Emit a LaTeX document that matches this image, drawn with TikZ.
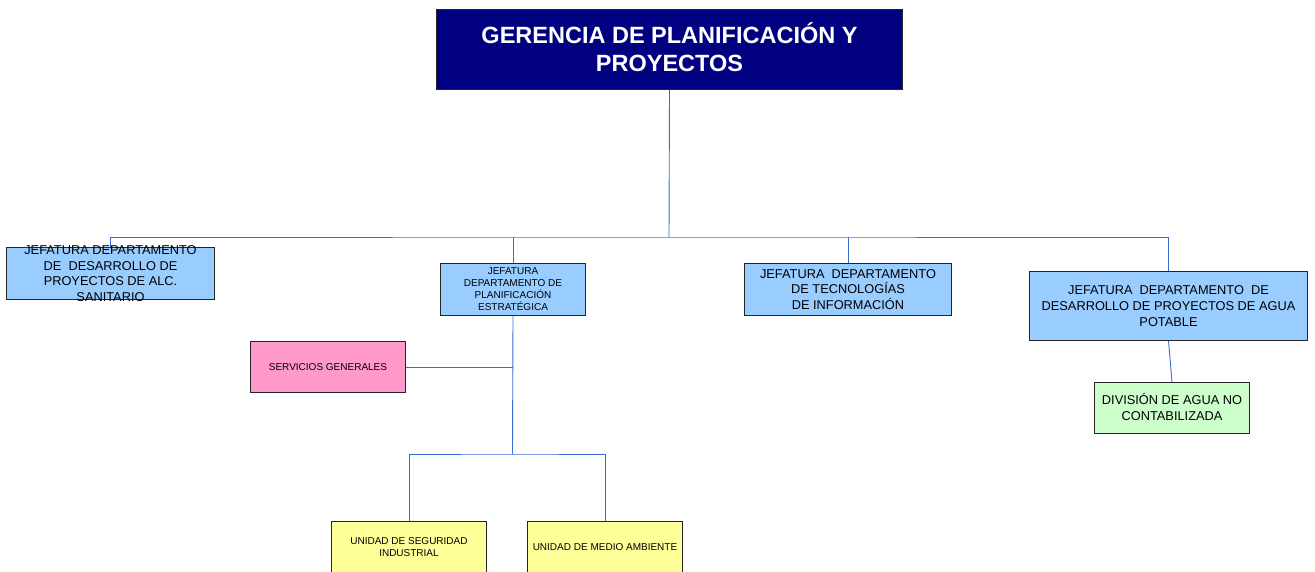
\documentclass[tikz,border=0pt]{standalone}
\usepackage{fontspec}
\setmainfont{Liberation Sans}
\usepackage{xcolor}
\definecolor{gerencia}{HTML}{000080}
\definecolor{jefatura}{HTML}{99CCFF}
\definecolor{servicio}{HTML}{FF99CC}
\definecolor{division}{HTML}{CCFFCC}
\definecolor{unidad}{HTML}{FFFF99}
\definecolor{linea}{HTML}{3A6BD6}

\begin{document}
\begin{tikzpicture}[x=1pt,y=-1pt,box/.style={draw=black!85,fill=#1,line width=1pt,anchor=north west,inner sep=0pt,align=center},link/.style={draw=linea,line width=0.9pt},big/.style={font=\fontsize{12.8}{15.6}\selectfont},small/.style={font=\fontsize{10}{12}\selectfont}]
  \useasboundingbox (0,0) rectangle (1315,572);
  % top
  \node[box=gerencia,minimum width=466pt,minimum height=80pt,text=white,font=\fontsize{23.5}{28}\selectfont\bfseries] (g) at (436,9) {GERENCIA DE PLANIFICACI\smash{Ó}N Y\\PROYECTOS};
  % jefaturas
  \node[box=jefatura,minimum width=208pt,minimum height=52pt] (jalc) at (6,247) {};
  \node[big,align=center] at (jalc.center) {JEFATURA DEPARTAMENTO\\DE~~DESARROLLO DE\\PROYECTOS DE ALC.\\SANITARIO};
  \node[box=jefatura,small,minimum width=145pt,minimum height=52pt] (jplan) at (440,263) {JEFATURA\\DEPARTAMENTO DE\\PLANIFICACIÓN\\ESTRATÉGICA};
  \node[box=jefatura,big,minimum width=207pt,minimum height=52pt] (jtec) at (744,263) {JEFATURA~~DEPARTAMENTO\\DE TECNOLOGÍAS\\DE INFORMACIÓN};
  \node[box=jefatura,big,minimum width=278pt,minimum height=69pt] (jagua) at (1029,271) {JEFATURA~~DEPARTAMENTO~~DE\\DESARROLLO DE PROYECTOS DE AGUA\\POTABLE};
  % dependencias
  \node[box=servicio,small,minimum width=155pt,minimum height=51pt] (serv) at (250,341) {SERVICIOS GENERALES};
  \node[box=division,big,minimum width=155pt,minimum height=51pt] (div) at (1094,382) {DIVISI\smash{Ó}N DE AGUA NO\\CONTABILIZADA};
  \node[box=unidad,small,minimum width=155pt,minimum height=52pt] (useg) at (331,521) {UNIDAD DE SEGURIDAD\\INDUSTRIAL};
  \node[box=unidad,small,minimum width=155pt,minimum height=52pt] (umed) at (527,521) {UNIDAD DE MEDIO AMBIENTE};
  % lineas
  \coordinate (bus) at (669,237);
  \coordinate (split) at (512.5,454);
  \draw[link] (g.south) -- (bus);
  \draw[link] (jalc.north) |- (bus) -| (jagua.north);
  \draw[link] (jplan.north) -- (jplan.north |- bus);
  \draw[link] (jtec.north) -- (jtec.north |- bus);
  \draw[link] (jplan.south) -- (split);
  \draw[link] (serv.east) -- (serv.east -| split);
  \draw[link] (useg.north) |- (split) -| (umed.north);
  \draw[link] (jagua.south) -- (div.north);
\end{tikzpicture}
\end{document}
